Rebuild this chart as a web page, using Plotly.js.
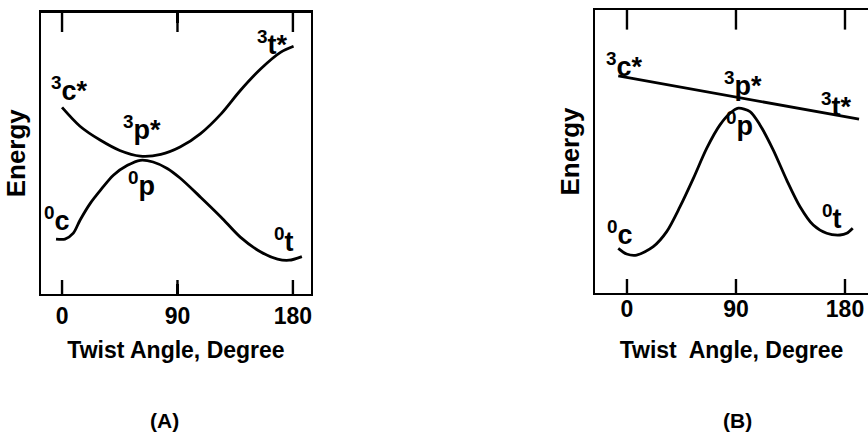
<!DOCTYPE html>
<html>
<head>
<meta charset="utf-8">
<script src="https://cdn.plot.ly/plotly-3.0.1.min.js"></script>
<style>html,body{margin:0;padding:0;background:#fff;}#chart{width:868px;height:432px;}</style>
</head>
<body>
<div id="chart"></div>
<script>
// Panel A
var angleA_upper = [0, 14, 30, 45, 61, 77, 92, 108, 124, 139, 155, 170.6, 180.5];
var energyA_upper = [66.3, 59.6, 54.6, 51, 49, 49.6, 52.2, 57, 64, 72.3, 80, 85.9, 88];
var angleA_lower = [-4.7, 2.3, 8.8, 14, 22, 30, 40, 51, 61, 71, 82, 92, 108, 124, 139, 155, 168, 177, 187];
var energyA_lower = [19.5, 19.5, 21.6, 26.2, 32.2, 36.9, 42.2, 45.7, 47.5, 46.9, 44.6, 41.2, 34.4, 27.3, 20.2, 14.9, 12.4, 12, 13.3];
// Panel B
var angleB_upper = [-7.2, 191.6];
var energyB_upper = [76.7, 61.4];
var angleB_lower = [-7.2, -0.3, 8.0, 21.7, 32.8, 43.8, 54.8, 65.8, 76.8, 85.1, 91.9, 101.6, 109.8, 120.8, 131.9, 142.9, 153.8, 164.9, 175.9, 181.4, 186.4];
var energyB_lower = [15.8, 13.8, 13.4, 16.4, 21.7, 30.5, 40.5, 51.1, 59.4, 63.5, 65.3, 64.1, 59.4, 50.5, 39.9, 30.5, 24.0, 21.1, 20.5, 21.1, 22.9];

var tickVals = [0, 90, 180];
var tickText = ['0', '90', '180'];
var energyRange = [0, 100];

// State labels
var labelsA = ['<sup>3</sup>c*', '<sup>3</sup>p*', '<sup>3</sup>t*', '<sup>0</sup>c', '<sup>0</sup>p', '<sup>0</sup>t'];
var labelsA_x = [5.5, 62.6, 164, -4, 61.8, 173];
var labelsA_y = [72.8, 59, 89.2, 26.6, 39, 19.2];
var labelsB = ['<sup>3</sup>c*', '<sup>3</sup>p*', '<sup>3</sup>t*', '<sup>0</sup>c', '<sup>0</sup>p', '<sup>0</sup>t'];
var labelsB_x = [-1.7, 95.8, 172.6, -5.8, 93.3, 169];
var labelsB_y = [80.6, 73.9, 66.4, 21.2, 59.7, 26.9];

var FONT = '"Liberation Sans", Arial, Helvetica, sans-serif';
var lineStyle = {color: '#000', width: 2.8, shape: 'spline', smoothing: 0.8};

function tickMarks(xa, ya, yVal, size) {
  // tick marks at the tick values, drawn on the frame edge and clipped to the plot area
  return {x: tickVals, y: tickVals.map(function () { return yVal; }), xaxis: xa, yaxis: ya,
    mode: 'markers', cliponaxis: true, hoverinfo: 'skip',
    marker: {symbol: 'line-ns', size: size, color: '#000', line: {color: '#000', width: 2.4}}};
}

var traces = [
  {x: angleA_upper, y: energyA_upper, xaxis: 'x', yaxis: 'y', mode: 'lines', line: lineStyle, hoverinfo: 'skip'},
  {x: angleA_lower, y: energyA_lower, xaxis: 'x', yaxis: 'y', mode: 'lines', line: lineStyle, hoverinfo: 'skip'},
  {x: angleB_upper, y: energyB_upper, xaxis: 'x2', yaxis: 'y2', mode: 'lines', line: {color: '#000', width: 2.8}, hoverinfo: 'skip'},
  {x: angleB_lower, y: energyB_lower, xaxis: 'x2', yaxis: 'y2', mode: 'lines', line: lineStyle, hoverinfo: 'skip'},
  tickMarks('x', 'y', energyRange[0], 20),
  tickMarks('x', 'y', energyRange[1], 28),
  tickMarks('x2', 'y2', energyRange[0], 20),
  tickMarks('x2', 'y2', energyRange[1], 28)
];

function xAxis(domain, range, anchor, labelStandoff, titleStandoff, titleText) {
  return {
    domain: domain, range: range, anchor: anchor,
    showgrid: false, zeroline: false,
    showline: true, linecolor: '#000', linewidth: 2.4, mirror: 'ticks',
    ticks: 'inside', ticklen: 10, tickwidth: 2.4, tickcolor: '#000',
    tickvals: tickVals, ticktext: tickText,
    ticklabelstandoff: labelStandoff,
    tickfont: {family: FONT, size: 23, color: '#000', weight: 'bold'},
    title: {text: titleText, standoff: titleStandoff,
            font: {family: FONT, size: 23, color: '#000', weight: 'bold'}}
  };
}
function yAxis(domain, anchor, mirror) {
  return {
    domain: domain, range: energyRange, anchor: anchor,
    showgrid: false, zeroline: false,
    showline: true, linecolor: '#000', linewidth: 2.4, mirror: mirror,
    ticks: '', showticklabels: false,
    title: {text: 'Energy', standoff: 6,
            font: {family: FONT, size: 26, color: '#000', weight: 'bold'}}
  };
}

var rangeA = [-16.4, 194.1];
var rangeB = [-26.4, 199.0];

var annotations = [];
function addLabels(labels, xs, ys, xref, yref) {
  for (var i = 0; i < labels.length; i++) {
    annotations.push({text: labels[i], x: xs[i], y: ys[i], xref: xref, yref: yref,
      showarrow: false, xanchor: 'center', yanchor: 'middle',
      font: {family: FONT, size: 27, color: '#000', weight: 'bold'}});
  }
}
addLabels(labelsA, labelsA_x, labelsA_y, 'x', 'y');
addLabels(labelsB, labelsB_x, labelsB_y, 'x2', 'y2');
annotations.push({text: '(A)', xref: 'paper', yref: 'paper', x: 164 / 868, y: 1 - 420 / 432,
  showarrow: false, xanchor: 'center', yanchor: 'middle',
  font: {family: FONT, size: 21, color: '#000', weight: 'bold'}});
annotations.push({text: '(B)', xref: 'paper', yref: 'paper', x: 737 / 868, y: 1 - 420 / 432,
  showarrow: false, xanchor: 'center', yanchor: 'middle',
  font: {family: FONT, size: 21, color: '#000', weight: 'bold'}});

var layout = {
  width: 868, height: 432,
  margin: {l: 0, r: 0, t: 0, b: 0, pad: 0},
  paper_bgcolor: '#fff', plot_bgcolor: '#fff',
  showlegend: false,
  font: {family: FONT, color: '#000'},
  xaxis: xAxis([41 / 868, 311 / 868], rangeA, 'y', 0, 14, 'Twist Angle, Degree'),
  yaxis: yAxis([1 - 294 / 432, 1 - 12.5 / 432], 'x', true),
  xaxis2: xAxis([595 / 868, 1], rangeB, 'y2', -6, 21, 'Twist\u00a0 Angle, Degree'),
  yaxis2: yAxis([1 - 293 / 432, 1 - 10 / 432], 'x2', false),
  annotations: annotations
};

Plotly.newPlot('chart', traces, layout, {staticPlot: true, displayModeBar: false});
</script>
</body>
</html>
